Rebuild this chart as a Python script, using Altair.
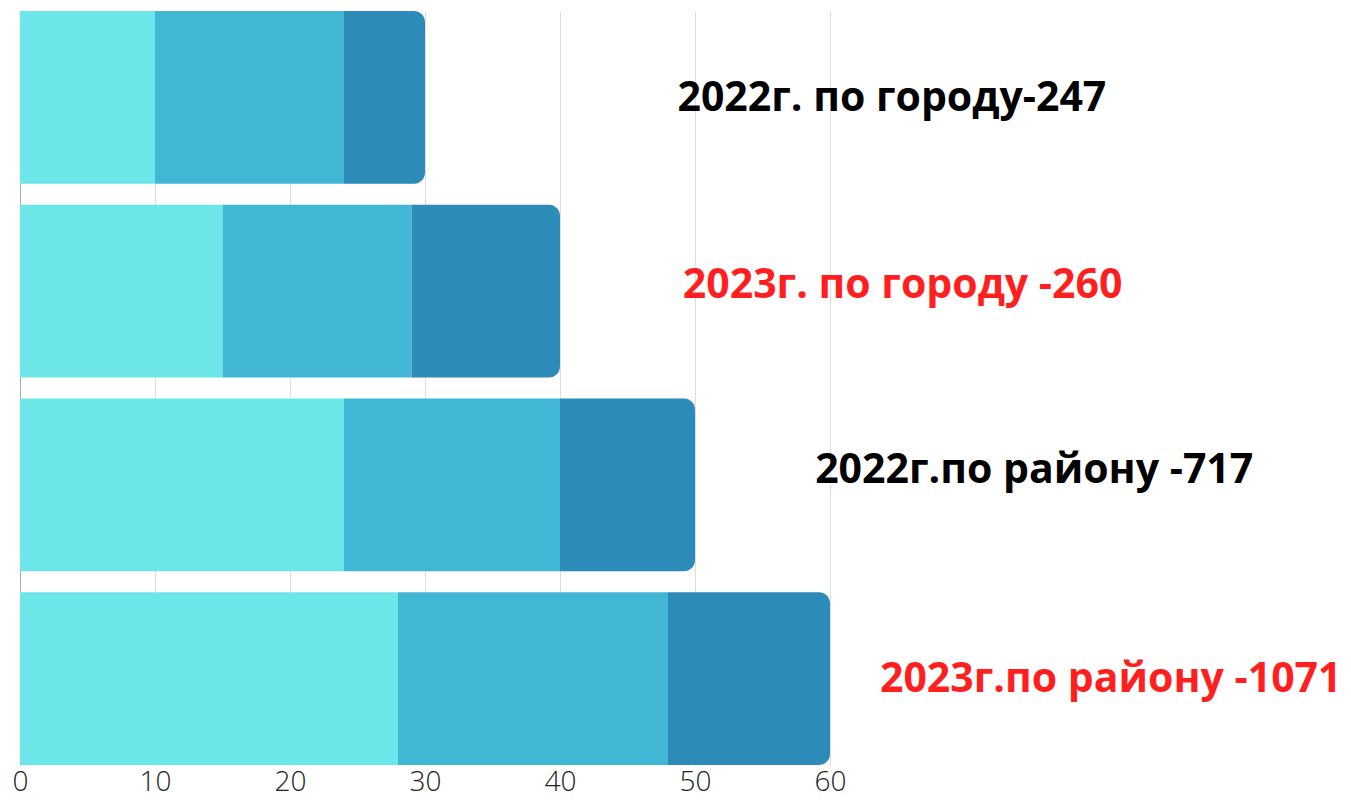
import altair as alt
import pandas as pd

rows = ["2022 город", "2023 город", "2022 район", "2023 район"]
seg1 = [10, 15, 24, 28]
seg2 = [14, 14, 16, 20]
seg3 = [6, 11, 10, 12]
seg_names = ["a", "b", "c"]
seg_colors = ["#6ce6e9", "#42b7d5", "#2d8bb9"]

labels = ["2022г. по городу-247", "2023г. по городу -260",
          "2022г.по району -717", "2023г.по району -1071"]
label_x = [48.7, 49.1, 58.9, 63.7]
label_colors = ["#000000", "#ff1f1f", "#000000", "#ff1f1f"]
x_ticks = [0, 10, 20, 30, 40, 50, 60]

# styling offsets for label vertical placement (pixels)
label_dy = [2, -5, -14, 1]

recs = []
for i, r in enumerate(rows):
    start = 0
    for s, v in zip(seg_names, [seg1[i], seg2[i], seg3[i]]):
        recs.append({"row": r, "seg": s, "start": start, "end": start + v})
        start += v
df = pd.DataFrame(recs)

yscale = alt.Scale(domain=rows, paddingInner=0.108, paddingOuter=0)
yenc = alt.Y("row:N", sort=rows, scale=yscale,
             axis=alt.Axis(title=None, labels=False, ticks=False, grid=False,
                           domain=True, domainColor="#aaaaaa", domainWidth=1))
xenc = alt.X("start:Q", scale=alt.Scale(domain=[0, 60], nice=False, zero=True),
             axis=alt.Axis(title=None, values=x_ticks, grid=True, gridColor="#dddddd",
                           domain=False, ticks=False, labelPadding=3,
                           labelFontSize=28, labelFont="Open Sans", labelFontWeight=300,
                           labelColor="#222222", labelBound=False, labelFlush=False,
                           labelOverlap=False))
colenc = alt.Color("seg:N", scale=alt.Scale(domain=seg_names, range=seg_colors), legend=None)

base = alt.Chart(df)
bars_inner = base.transform_filter(alt.datum.seg != "c").mark_bar().encode(
    y=yenc, x=xenc, x2="end:Q", color=colenc)
bars_last = base.transform_filter(alt.datum.seg == "c").mark_bar(
    cornerRadiusTopRight=11, cornerRadiusBottomRight=11).encode(
    y=alt.Y("row:N", sort=rows), x="start:Q", x2="end:Q", color=colenc)

layers = [bars_inner, bars_last]
for i in range(len(rows)):
    tdf = pd.DataFrame({"row": [rows[i]], "lx": [label_x[i]], "label": [labels[i]],
                        "col": [label_colors[i]]})
    layers.append(alt.Chart(tdf).mark_text(
        align="left", baseline="middle", font="Open Sans", fontWeight="bold",
        fontSize=41, dy=label_dy[i]).encode(
        y=alt.Y("row:N", sort=rows), x="lx:Q", text="label:N",
        color=alt.Color("col:N", scale=None)))

chart = alt.layer(*layers).properties(
    width=810, height=754,
    padding={"left": 12, "top": 3, "right": 512, "bottom": 37},
    autosize=alt.AutoSizeParams(type="none")
).configure_view(stroke=None)

chart.save("out.html", embed_options={"renderer": "svg", "actions": False})
